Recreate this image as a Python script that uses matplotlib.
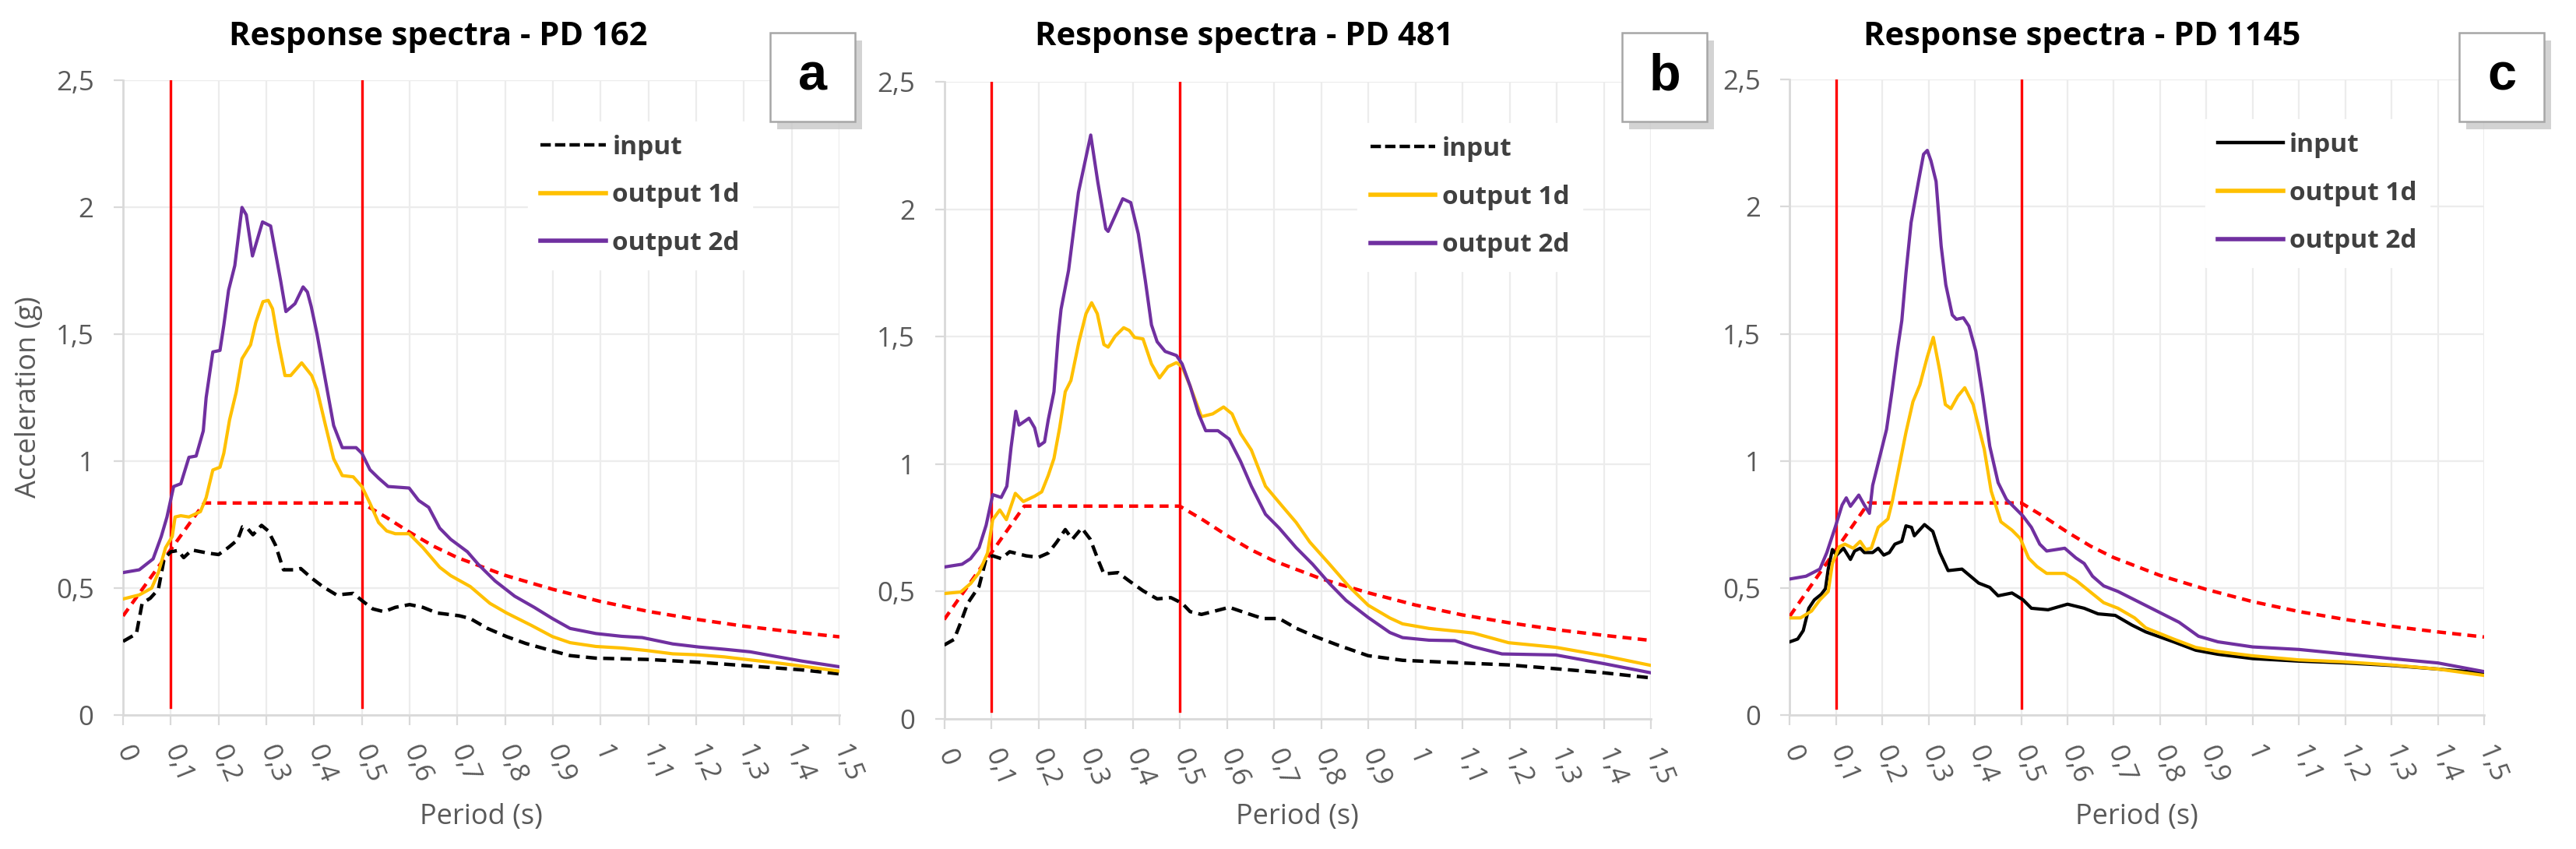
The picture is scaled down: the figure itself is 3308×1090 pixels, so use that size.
import numpy as np
import matplotlib
matplotlib.use("Agg")
import matplotlib.pyplot as plt
from matplotlib.patches import Rectangle
from matplotlib.lines import Line2D

# ---------------- data ----------------
titles = ["Response spectra - PD 162", "Response spectra - PD 481", "Response spectra - PD 1145"]
panel_letters = ["a", "b", "c"]
series_names = ["input", "output 1d", "output 2d"]
period_bounds = [0.1, 0.5]

x_ticks = [0, 0.1, 0.2, 0.3, 0.4, 0.5, 0.6, 0.7, 0.8, 0.9, 1.0, 1.1, 1.2, 1.3, 1.4, 1.5]
x_ticklabels = ["0", "0,1", "0,2", "0,3", "0,4", "0,5", "0,6", "0,7", "0,8", "0,9",
                "1", "1,1", "1,2", "1,3", "1,4", "1,5"]
y_ticks = [0, 0.5, 1.0, 1.5, 2.0, 2.5]
y_ticklabels = ["0", "0,5", "1", "1,5", "2", "2,5"]

# design (code) spectrum, red dashed, same in all panels
design_T = [0, 0.17, 0.5, 0.55, 0.6, 0.65, 0.7, 0.8, 0.9, 1.0, 1.1, 1.2, 1.3, 1.4, 1.5]
design_V = [0.39, 0.835, 0.835, 0.78, 0.72, 0.665, 0.62, 0.55, 0.495, 0.447, 0.408, 0.377, 0.35, 0.328, 0.308]

# ---- panel a (PD 162)
a_in_T = [0, 0.028, 0.04, 0.057, 0.074, 0.086, 0.1, 0.115, 0.127, 0.144, 0.18, 0.2, 0.22, 0.24, 0.25, 0.26,
          0.272, 0.29, 0.304, 0.319, 0.336, 0.36, 0.372, 0.395, 0.418, 0.447, 0.482, 0.5, 0.523, 0.546, 0.57,
          0.6, 0.628, 0.657, 0.704, 0.727, 0.762, 0.803, 0.843, 0.896, 0.936, 0.99, 1.097, 1.205, 1.313, 1.42, 1.5]
a_in_V = [0.29, 0.32, 0.44, 0.46, 0.495, 0.615, 0.643, 0.648, 0.62, 0.65, 0.637, 0.632, 0.659, 0.69, 0.741, 0.736,
          0.71, 0.747, 0.725, 0.67, 0.572, 0.572, 0.577, 0.539, 0.506, 0.473, 0.479, 0.451, 0.418, 0.407, 0.424,
          0.435, 0.424, 0.402, 0.391, 0.38, 0.342, 0.309, 0.282, 0.254, 0.234, 0.224, 0.219, 0.208, 0.193, 0.178, 0.162]
a_1d_T = [0, 0.034, 0.06, 0.074, 0.089, 0.103, 0.109, 0.121, 0.138, 0.162, 0.174, 0.188, 0.203, 0.211, 0.223,
          0.237, 0.249, 0.267, 0.278, 0.293, 0.304, 0.313, 0.325, 0.339, 0.351, 0.374, 0.395, 0.406, 0.424, 0.441,
          0.459, 0.482, 0.5, 0.517, 0.535, 0.552, 0.57, 0.599, 0.628, 0.663, 0.686, 0.727, 0.768, 0.803, 0.855,
          0.899, 0.936, 0.99, 1.044, 1.097, 1.151, 1.205, 1.259, 1.313, 1.366, 1.42, 1.5]
a_1d_V = [0.457, 0.473, 0.5, 0.561, 0.659, 0.703, 0.78, 0.785, 0.78, 0.801, 0.856, 0.965, 0.976, 1.031, 1.162,
          1.272, 1.403, 1.458, 1.546, 1.628, 1.633, 1.6, 1.469, 1.337, 1.337, 1.387, 1.337, 1.283, 1.14, 1.009,
          0.943, 0.938, 0.9, 0.834, 0.758, 0.725, 0.714, 0.714, 0.659, 0.582, 0.549, 0.506, 0.44, 0.402, 0.353,
          0.309, 0.285, 0.27, 0.264, 0.254, 0.241, 0.237, 0.229, 0.217, 0.206, 0.193, 0.173]
a_2d_T = [0, 0.034, 0.063, 0.08, 0.092, 0.106, 0.121, 0.138, 0.153, 0.168, 0.174, 0.188, 0.203, 0.211, 0.221,
          0.234, 0.249, 0.258, 0.271, 0.292, 0.309, 0.33, 0.341, 0.36, 0.377, 0.386, 0.394, 0.406, 0.424, 0.441,
          0.459, 0.488, 0.5, 0.517, 0.535, 0.555, 0.599, 0.619, 0.64, 0.663, 0.686, 0.721, 0.744, 0.779, 0.82,
          0.861, 0.899, 0.936, 0.99, 1.044, 1.087, 1.151, 1.205, 1.259, 1.313, 1.366, 1.42, 1.5]
a_2d_V = [0.561, 0.572, 0.615, 0.703, 0.78, 0.9, 0.911, 1.015, 1.02, 1.119, 1.25, 1.43, 1.436, 1.535, 1.673,
          1.77, 1.999, 1.97, 1.808, 1.942, 1.926, 1.71, 1.589, 1.62, 1.686, 1.666, 1.609, 1.502, 1.316, 1.14,
          1.053, 1.053, 1.031, 0.966, 0.933, 0.9, 0.894, 0.845, 0.818, 0.736, 0.692, 0.643, 0.593, 0.528, 0.468,
          0.424, 0.38, 0.341, 0.321, 0.31, 0.305, 0.28, 0.268, 0.259, 0.249, 0.231, 0.213, 0.19]

# ---- panel b (PD 481)
b_in_T = [0, 0.021, 0.035, 0.05, 0.074, 0.089, 0.103, 0.121, 0.139, 0.174, 0.2, 0.221, 0.239, 0.257, 0.272,
          0.292, 0.31, 0.328, 0.339, 0.369, 0.393, 0.422, 0.452, 0.481, 0.505, 0.522, 0.546, 0.57, 0.605, 0.64,
          0.676, 0.711, 0.747, 0.788, 0.835, 0.9, 0.973, 1.094, 1.198, 1.298, 1.4, 1.5]
b_in_V = [0.29, 0.312, 0.378, 0.454, 0.52, 0.629, 0.64, 0.629, 0.656, 0.64, 0.634, 0.651, 0.694, 0.743, 0.705,
          0.749, 0.705, 0.618, 0.569, 0.574, 0.541, 0.503, 0.471, 0.476, 0.454, 0.421, 0.41, 0.421, 0.438, 0.416,
          0.394, 0.394, 0.356, 0.323, 0.29, 0.248, 0.23, 0.22, 0.212, 0.197, 0.181, 0.161]
b_1d_T = [0, 0.035, 0.056, 0.074, 0.092, 0.103, 0.118, 0.132, 0.151, 0.168, 0.192, 0.207, 0.221, 0.233, 0.245,
          0.257, 0.269, 0.286, 0.301, 0.313, 0.325, 0.339, 0.348, 0.363, 0.381, 0.393, 0.404, 0.422, 0.44, 0.457,
          0.475, 0.493, 0.505, 0.522, 0.546, 0.57, 0.593, 0.611, 0.629, 0.652, 0.682, 0.717, 0.747, 0.776, 0.818,
          0.859, 0.9, 0.946, 0.973, 1.029, 1.094, 1.123, 1.198, 1.298, 1.4, 1.5]
b_1d_V = [0.492, 0.498, 0.531, 0.574, 0.651, 0.782, 0.82, 0.782, 0.885, 0.853, 0.874, 0.891, 0.956, 1.022, 1.142,
          1.284, 1.328, 1.48, 1.59, 1.633, 1.59, 1.469, 1.459, 1.502, 1.535, 1.524, 1.497, 1.491, 1.393, 1.338,
          1.382, 1.398, 1.382, 1.306, 1.186, 1.197, 1.224, 1.197, 1.12, 1.055, 0.913, 0.836, 0.771, 0.694, 0.607,
          0.52, 0.446, 0.396, 0.373, 0.355, 0.343, 0.337, 0.299, 0.281, 0.248, 0.21]
b_2d_T = [0, 0.038, 0.056, 0.074, 0.089, 0.103, 0.121, 0.133, 0.142, 0.152, 0.159, 0.18, 0.192, 0.201, 0.213,
          0.221, 0.233, 0.242, 0.248, 0.264, 0.28, 0.285, 0.311, 0.326, 0.343, 0.348, 0.379, 0.396, 0.412, 0.427,
          0.44, 0.452, 0.469, 0.493, 0.505, 0.522, 0.54, 0.555, 0.581, 0.605, 0.629, 0.652, 0.682, 0.711, 0.747,
          0.782, 0.818, 0.853, 0.9, 0.946, 0.973, 1.029, 1.084, 1.123, 1.184, 1.298, 1.4, 1.5]
b_2d_V = [0.596, 0.607, 0.629, 0.672, 0.76, 0.88, 0.869, 0.913, 1.066, 1.207, 1.153, 1.18, 1.142, 1.071, 1.087,
          1.175, 1.284, 1.502, 1.607, 1.76, 1.994, 2.066, 2.291, 2.107, 1.923, 1.913, 2.041, 2.026, 1.903, 1.719,
          1.546, 1.48, 1.442, 1.426, 1.393, 1.306, 1.197, 1.131, 1.131, 1.098, 1.011, 0.913, 0.803, 0.749, 0.672,
          0.607, 0.531, 0.465, 0.398, 0.339, 0.319, 0.309, 0.307, 0.283, 0.255, 0.251, 0.217, 0.181]

# ---- panel c (PD 1145)
c_in_T = [0, 0.017, 0.029, 0.041, 0.053, 0.068, 0.077, 0.083, 0.092, 0.101, 0.116, 0.131, 0.14, 0.152, 0.161,
          0.179, 0.191, 0.203, 0.215, 0.227, 0.242, 0.251, 0.263, 0.269, 0.291, 0.309, 0.324, 0.342, 0.372, 0.408,
          0.432, 0.45, 0.48, 0.504, 0.522, 0.558, 0.6, 0.636, 0.666, 0.703, 0.739, 0.769, 0.829, 0.877, 0.925,
          1.0, 1.1, 1.2, 1.3, 1.4, 1.5]
c_in_V = [0.289, 0.3, 0.333, 0.421, 0.454, 0.476, 0.498, 0.575, 0.652, 0.63, 0.657, 0.613, 0.646, 0.657, 0.64,
          0.64, 0.657, 0.63, 0.64, 0.673, 0.684, 0.745, 0.739, 0.706, 0.75, 0.723, 0.64, 0.569, 0.575, 0.52,
          0.503, 0.47, 0.481, 0.454, 0.421, 0.415, 0.437, 0.421, 0.399, 0.393, 0.355, 0.328, 0.289, 0.256, 0.24,
          0.223, 0.213, 0.206, 0.196, 0.182, 0.167]
c_1d_T = [0, 0.023, 0.047, 0.065, 0.083, 0.092, 0.107, 0.119, 0.137, 0.152, 0.164, 0.176, 0.191, 0.212, 0.221,
          0.233, 0.251, 0.266, 0.281, 0.297, 0.31, 0.324, 0.336, 0.348, 0.363, 0.378, 0.396, 0.408, 0.42, 0.435,
          0.456, 0.48, 0.498, 0.516, 0.534, 0.555, 0.594, 0.618, 0.648, 0.678, 0.709, 0.745, 0.769, 0.829, 0.877,
          0.925, 1.0, 1.1, 1.2, 1.3, 1.4, 1.5]
c_1d_V = [0.383, 0.383, 0.41, 0.454, 0.487, 0.597, 0.663, 0.673, 0.657, 0.684, 0.652, 0.657, 0.739, 0.772, 0.838,
          0.948, 1.113, 1.233, 1.299, 1.409, 1.486, 1.354, 1.222, 1.206, 1.255, 1.288, 1.222, 1.134, 1.047, 0.882,
          0.761, 0.728, 0.695, 0.618, 0.585, 0.558, 0.558, 0.531, 0.487, 0.443, 0.421, 0.383, 0.344, 0.3, 0.267,
          0.251, 0.234, 0.218, 0.21, 0.198, 0.182, 0.157]
c_2d_T = [0, 0.035, 0.065, 0.08, 0.098, 0.113, 0.122, 0.131, 0.149, 0.161, 0.172, 0.179, 0.197, 0.209, 0.221,
          0.233, 0.242, 0.251, 0.262, 0.278, 0.289, 0.297, 0.305, 0.316, 0.327, 0.337, 0.351, 0.36, 0.375, 0.387,
          0.402, 0.417, 0.432, 0.45, 0.468, 0.486, 0.504, 0.522, 0.54, 0.555, 0.594, 0.618, 0.636, 0.654, 0.678,
          0.709, 0.745, 0.793, 0.841, 0.883, 0.925, 1.0, 1.1, 1.2, 1.3, 1.4, 1.5]
c_2d_V = [0.536, 0.547, 0.575, 0.64, 0.739, 0.827, 0.855, 0.822, 0.866, 0.827, 0.794, 0.904, 1.036, 1.124, 1.277,
          1.442, 1.552, 1.74, 1.937, 2.099, 2.206, 2.221, 2.18, 2.099, 1.845, 1.693, 1.574, 1.557, 1.563, 1.53,
          1.431, 1.255, 1.058, 0.915, 0.849, 0.816, 0.783, 0.739, 0.673, 0.646, 0.657, 0.619, 0.597, 0.547, 0.509,
          0.487, 0.454, 0.41, 0.366, 0.311, 0.289, 0.269, 0.259, 0.241, 0.223, 0.206, 0.172]

panels = [
    (a_in_T, a_in_V, a_1d_T, a_1d_V, a_2d_T, a_2d_V, "dashed"),
    (b_in_T, b_in_V, b_1d_T, b_1d_V, b_2d_T, b_2d_V, "dashed"),
    (c_in_T, c_in_V, c_1d_T, c_1d_V, c_2d_T, c_2d_V, "solid"),
]

# ---------------- layout / style ----------------
W, H = 3308, 1090
FONT = ["Open Sans", "DejaVu Sans"]
plt.rcParams["font.family"] = FONT
GRAY_TXT = "#595959"
GRID = "#ECECEC"
AXIS = "#D9D9D9"
YELLOW = "#FFC000"
PURPLE = "#7030A0"
RED = "#FF0000"

# axes pixel boxes: left, right, top, bottom
axes_px = [(158, 1078, 103, 918), (1212.5, 2120, 105, 923), (2298.4, 3190, 102, 918.4)]
title_cx = [563, 1598, 2674]
legend_anchor = [(0.565, 0.935), (0.585, 0.935), (0.598, 0.937)]
box_px = [(989, 42), (2083, 42), (3158, 42)]
BOX_W, BOX_H = 109, 114

fig = plt.figure(figsize=(W / 100, H / 100), dpi=100)
fig.patch.set_facecolor("white")

for i, (l, r, t, b) in enumerate(axes_px):
    ax = fig.add_axes([l / W, 1 - b / H, (r - l) / W, (b - t) / H])
    inT, inV, o1T, o1V, o2T, o2V, in_style = panels[i]

    ax.set_xlim(0, 1.5)
    ax.set_ylim(0, 2.5)
    ax.set_xticks(x_ticks)
    ax.set_xticklabels(x_ticklabels)
    ax.set_yticks(y_ticks)
    ax.set_yticklabels(y_ticklabels)
    ax.grid(True, color=GRID, lw=1.6, zorder=0)
    ax.set_axisbelow(True)
    for s in ["top", "right"]:
        ax.spines[s].set_visible(False)
    ax.spines["left"].set_color(AXIS)
    ax.spines["left"].set_linewidth(2)
    ax.spines["bottom"].set_color(AXIS)
    ax.spines["bottom"].set_linewidth(2)
    ax.tick_params(axis="y", length=9, width=1.6, color=AXIS, pad=18,
                   labelsize=25, labelcolor=GRAY_TXT)
    ax.tick_params(axis="x", length=9, width=1.6, color=AXIS, pad=20,
                   labelsize=25, labelcolor=GRAY_TXT)
    for lab in ax.get_xticklabels():
        lab.set_rotation(-68)
        lab.set_ha("left")
        lab.set_va("center")
        lab.set_rotation_mode("anchor")

    for pb in period_bounds:
        ax.axvline(pb, ymin=0.012, ymax=1.0, color=RED, lw=2.4, zorder=2)
    ax.plot(design_T, design_V, color=RED, lw=3.2, ls=(0, (2.6, 1.8)), zorder=3)
    if in_style == "dashed":
        ax.plot(inT, inV, color="black", lw=3.2, ls=(0, (3.2, 1.8)), zorder=4)
    else:
        ax.plot(inT, inV, color="black", lw=3.0, zorder=4)
    ax.plot(o1T, o1V, color=YELLOW, lw=3.0, zorder=5)
    ax.plot(o2T, o2V, color=PURPLE, lw=3.0, zorder=6)

    handles = [
        Line2D([], [], color="black", lw=3.2, ls=(0, (3.0, 1.2)) if in_style == "dashed" else "-"),
        Line2D([], [], color=YELLOW, lw=4),
        Line2D([], [], color=PURPLE, lw=4),
    ]
    leg = ax.legend(handles, series_names, loc="upper left", bbox_to_anchor=legend_anchor[i],
                    frameon=True, fancybox=False, framealpha=1, edgecolor="white",
                    borderaxespad=0, borderpad=0.5, handlelength=2.5, handletextpad=0.25,
                    labelspacing=0.86, prop={"family": FONT, "weight": "bold", "size": 24})
    for txt in leg.get_texts():
        txt.set_color("#404040")
    leg.set_zorder(8)

    cx = (l + r) / 2
    fig.text(cx / W, 1 - 1049 / H, "Period (s)", ha="center", va="center",
             fontsize=26, color=GRAY_TXT)
    fig.text(title_cx[i] / W, 1 - 58 / H, titles[i], ha="center", va="baseline",
             fontsize=30, fontweight="bold", color="black")

    # panel letter box with shadow
    bx, by = box_px[i]
    shadow = Rectangle(((bx + 9) / W, 1 - (by + BOX_H + 10) / H), BOX_W / W, BOX_H / H,
                       transform=fig.transFigure, facecolor="#C8C8C8", edgecolor="none",
                       alpha=0.8, zorder=20)
    box = Rectangle((bx / W, 1 - (by + BOX_H) / H), BOX_W / W, BOX_H / H,
                    transform=fig.transFigure, facecolor="white", edgecolor="#A6A6A6",
                    lw=1.8, zorder=21)
    fig.add_artist(shadow)
    fig.add_artist(box)
    fig.text((bx + BOX_W / 2) / W, 1 - (by + BOX_H / 2) / H, panel_letters[i],
             ha="center", va="center", fontsize=48, fontweight="bold",
             family=["Liberation Sans", "DejaVu Sans"], color="black", zorder=22)

fig.text(37 / W, 1 - 510 / H, "Acceleration (g)", rotation=90, ha="center", va="center",
         fontsize=26, color=GRAY_TXT)

fig.savefig("out.png", dpi=100, facecolor="white")
